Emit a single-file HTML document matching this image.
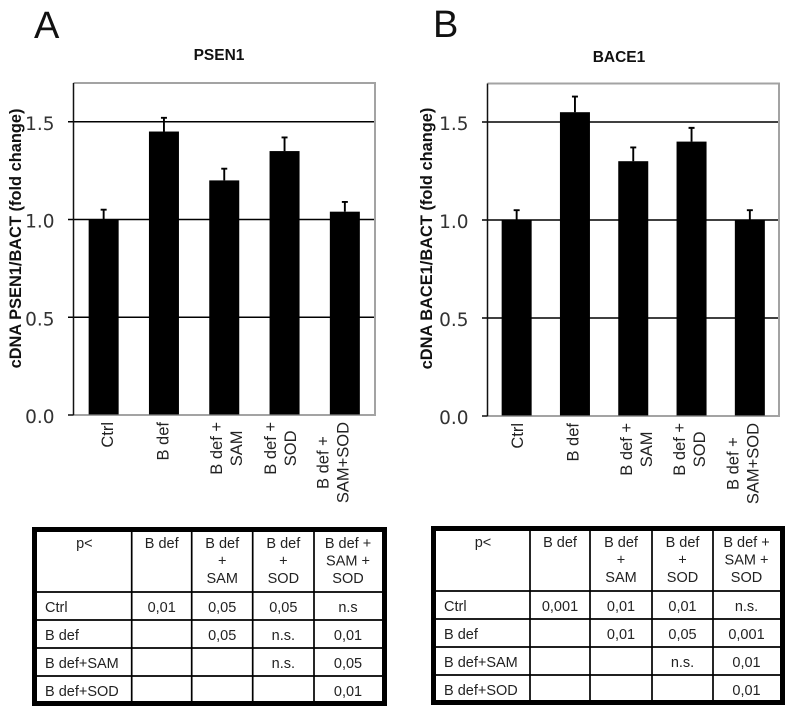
<!DOCTYPE html>
<html lang="en">
<head>
<meta charset="utf-8">
<title>PSEN1 and BACE1 fold change</title>
<style>
html,body{margin:0;padding:0;background:#fff;width:795px;height:715px;overflow:hidden}
svg{display:block;position:absolute;left:0;top:0}
text{font-family:"Liberation Sans",sans-serif}
</style>
</head>
<body>
<svg id="fig" width="795" height="715" viewBox="0 0 795 715"></svg>
<script>
const categories = [["Ctrl"], ["B def"], ["B def +", "SAM"], ["B def +", "SOD"], ["B def +", "SAM+SOD"]];
const tickValues = [0, 0.5, 1, 1.5];
const tickLabels = ["0.0", "0.5", "1.0", "1.5"];
const psen1Values = [1.0, 1.45, 1.2, 1.35, 1.04];
const psen1Errors = [0.05, 0.07, 0.06, 0.07, 0.05];
const bace1Values = [1.0, 1.55, 1.3, 1.4, 1.0];
const bace1Errors = [0.05, 0.08, 0.07, 0.07, 0.05];
const tableColumns = [["p<"], ["B def"], ["B def", "+", "SAM"], ["B def", "+", "SOD"], ["B def +", "SAM +", "SOD"]];
const tableRows = ["Ctrl", "B def", "B def+SAM", "B def+SOD"];
const psen1Stats = [
  ["0,01", "0,05", "0,05", "n.s"],
  ["", "0,05", "n.s.", "0,01"],
  ["", "", "n.s.", "0,05"],
  ["", "", "", "0,01"]
];
const bace1Stats = [
  ["0,001", "0,01", "0,01", "n.s."],
  ["", "0,01", "0,05", "0,001"],
  ["", "", "n.s.", "0,01"],
  ["", "", "", "0,01"]
];

const NS = "http://www.w3.org/2000/svg";
const svg = document.getElementById("fig");

function mk(parent, tag, attrs, txt) {
  const el = document.createElementNS(NS, tag);
  for (const k in attrs) el.setAttribute(k, attrs[k]);
  if (txt !== undefined) el.textContent = txt;
  parent.appendChild(el);
  return el;
}

function drawChart(cfg) {
  const g = mk(svg, "g", {});
  
  

  const yScale = v => cfg.y0 - v * cfg.unit;
  const band = (cfg.right - cfg.left) / categories.length;
  const xScale = i => cfg.left + (i + 0.5) * band;

  const letter = mk(g, "text", {x: cfg.letterX, y: cfg.letterY, "font-size": 38, fill: "#111"}, cfg.letter);
  
  

  const title = mk(g, "text", {x: cfg.titleX, y: cfg.titleY, "font-size": 15.5, "font-weight": "bold", "text-anchor": "middle", fill: "#111"}, cfg.title);
  
  

  const frame = mk(g, "path", {d: `M${cfg.left} ${cfg.top}H${cfg.right}V${cfg.y0}H${cfg.left}`, fill: "none", stroke: "#a3a3a3", "stroke-width": 2});
  
  

  tickValues.forEach((v, i) => {
    if (v > 0) {
      const grid = mk(g, "line", {x1: cfg.left - 5.5, x2: cfg.right - 1, y1: yScale(v), y2: yScale(v), stroke: "#000", "stroke-width": 1.4});
      
      
    } else {
      const tick = mk(g, "line", {x1: cfg.left - 5.5, x2: cfg.left, y1: yScale(v), y2: yScale(v), stroke: "#000", "stroke-width": 1.4});
      
      
    }
    const lab = mk(g, "text", {x: cfg.left - 19, y: yScale(v) + 8, "font-size": 18.5, "text-anchor": "end", fill: "#333", style: 'font-family:"DejaVu Sans",sans-serif'}, tickLabels[i]);
    
    
  });

  const axis = mk(g, "line", {x1: cfg.left, x2: cfg.left, y1: cfg.top, y2: cfg.y0, stroke: "#111", "stroke-width": 1.5});
  
  

  cfg.values.forEach((v, i) => {
    const cx = xScale(i);
    const top = yScale(v + cfg.errors[i]);
    const err = mk(g, "path", {d: `M${cx} ${yScale(v)}V${top}M${cx - 3} ${top}H${cx + 3}`, fill: "none", stroke: "#000", "stroke-width": 1.9});
    
    
    const bar = mk(g, "rect", {x: cx - 15, y: yScale(v), width: 30, height: cfg.y0 - yScale(v) - 0.5, fill: "#000"});
    
    
  });

  categories.forEach((lines, i) => {
    const labelGroup = mk(g, "g", {});
    
    
    const centerX = xScale(i) + cfg.labelNudge[i];
    const texts = lines.map((s, j) => {
      const lx = centerX + (j - (lines.length - 1) / 2) * 20 + 5.5;
      return mk(labelGroup, "text", {x: lx, y: 0, "font-size": 16.5, "text-anchor": "middle", fill: "#222"}, s);
    });
    const longest = Math.max(...texts.map(t => t.getComputedTextLength()));
    const cy = cfg.y0 + 7 + longest / 2;
    texts.forEach(t => {
      const lx = t.getAttribute("x");
      t.setAttribute("y", cy);
      t.setAttribute("transform", `rotate(-90 ${lx} ${cy})`);
    });
  });

  const yTitle = mk(g, "text", {x: cfg.yTitleX, y: 238.5, "font-size": 16.4, "font-weight": "bold", "text-anchor": "middle", fill: "#111", transform: `rotate(-90 ${cfg.yTitleX} 238.5)`}, cfg.yTitle);
  
  
}

function drawTable(cfg) {
  const g = mk(svg, "g", {});
  
  

  const outer = mk(g, "rect", {x: cfg.x0 + 2.5, y: cfg.y0 + 2.5, width: cfg.x1 - cfg.x0 - 5, height: cfg.y1 - cfg.y0 - 5, fill: "#fff", stroke: "#000", "stroke-width": 5});
  
  

  cfg.cols.forEach(x => {
    const line = mk(g, "line", {x1: x, x2: x, y1: cfg.y0, y2: cfg.y1, stroke: "#000", "stroke-width": 1.7});
    
    
  });
  cfg.rows.forEach(y => {
    const line = mk(g, "line", {x1: cfg.x0, x2: cfg.x1, y1: y, y2: y, stroke: "#000", "stroke-width": 1.7});
    
    
  });

  const edges = [cfg.x0 + 5].concat(cfg.cols, [cfg.x1 - 5]);
  tableColumns.forEach((lines, c) => {
    const cx = (edges[c] + edges[c + 1]) / 2;
    lines.forEach((s, l) => {
      const t = mk(g, "text", {x: cx, y: cfg.y0 + 21 + l * 17.5, "font-size": 14.5, "text-anchor": "middle", fill: "#222"}, s);
      
      
    });
  });
  tableRows.forEach((s, r) => {
    const by = cfg.rows[r] + 20;
    const t = mk(g, "text", {x: cfg.x0 + 13, y: by, "font-size": 14.5, fill: "#222"}, s);
    
    
    cfg.stats[r].forEach((v, c) => {
      if (!v) return;
      const cx = (edges[c + 1] + edges[c + 2]) / 2;
      const cell = mk(g, "text", {x: cx, y: by, "font-size": 14.5, "text-anchor": "middle", fill: "#222"}, v);
      
      
    });
  });
}

drawChart({id: "psen1", letter: "A", letterX: 34, letterY: 38, title: "PSEN1", titleX: 219, titleY: 60,
  yTitle: "cDNA PSEN1/BACT (fold change)", yTitleX: 21, left: 73.5, right: 375, top: 83, y0: 415, unit: 195.5,
  values: psen1Values, errors: psen1Errors, labelNudge: [4, -1, 2, -4, -12]});
drawChart({id: "bace1", letter: "B", letterX: 433, letterY: 37, title: "BACE1", titleX: 619, titleY: 62,
  yTitle: "cDNA BACE1/BACT (fold change)", yTitleX: 432, left: 487.5, right: 779, top: 83.5, y0: 416, unit: 196,
  values: bace1Values, errors: bace1Errors, labelNudge: [1, -2, 3, -2, -7]});
drawTable({id: "psen1", x0: 32, x1: 387, y0: 527, y1: 706, cols: [131.7, 191.7, 252.7, 314], rows: [592, 620, 648, 676], stats: psen1Stats});
drawTable({id: "bace1", x0: 431, x1: 785, y0: 526, y1: 705, cols: [530, 590, 652, 713], rows: [591, 619, 647, 675], stats: bace1Stats});
</script>
</body>
</html>
